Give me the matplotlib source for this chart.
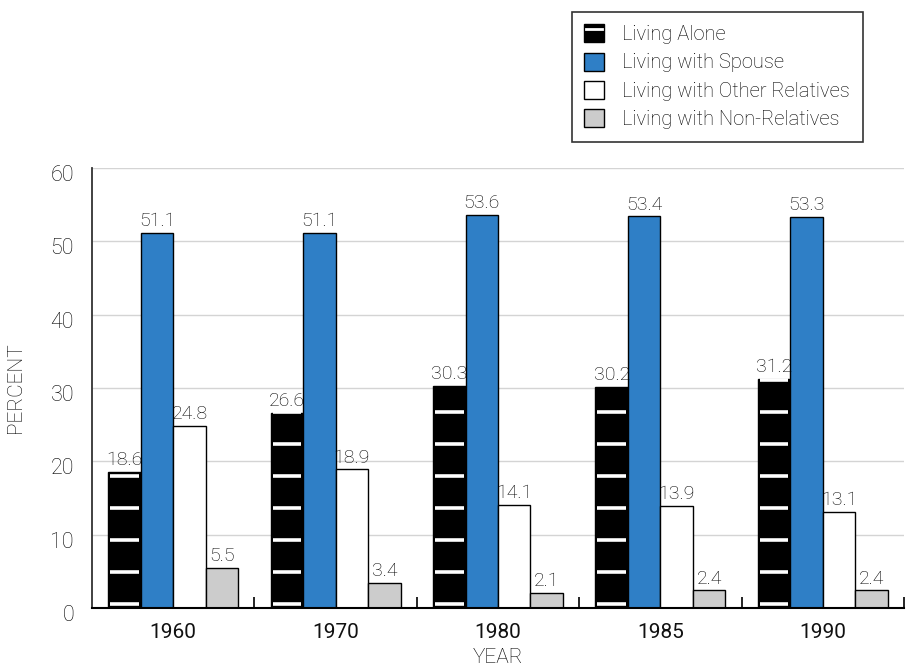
import matplotlib
matplotlib.use("Agg")
import matplotlib.pyplot as plt
import numpy as np
import matplotlib.transforms as mtransforms
from matplotlib.patches import Rectangle
from matplotlib.lines import Line2D
from matplotlib.legend_handler import HandlerBase

years = ["1960", "1970", "1980", "1985", "1990"]
series_names = ["Living Alone", "Living with Spouse",
                "Living with Other Relatives", "Living with Non-Relatives"]
living_alone = [18.6, 26.6, 30.3, 30.2, 31.2]
with_spouse = [51.1, 51.1, 53.6, 53.4, 53.3]
other_relatives = [24.8, 18.9, 14.1, 13.9, 13.1]
non_relatives = [5.5, 3.4, 2.1, 2.4, 2.4]
y_ticks = [0, 10, 20, 30, 40, 50, 60]

colors = ["#000000", "#2f7fc6", "#ffffff", "#cccccc"]
plt.rcParams['font.family'] = ["Roboto", "DejaVu Sans"]
plt.rcParams['font.weight'] = "light"
plt.rcParams['axes.labelweight'] = "light"
TXT = "#000000"

fig = plt.figure(figsize=(9.1, 6.68), dpi=100)
ax = fig.add_axes([0.1011, 0.0898, 0.8923, 0.6587])

x = np.arange(len(years))
w = 0.2
all_series = [living_alone, with_spouse, other_relatives, non_relatives]
bars = []
for k, (vals, c) in enumerate(zip(all_series, colors)):
    b = ax.bar(x + (k - 1.5) * w, vals, width=w, color=c, edgecolor="black",
               linewidth=1.0, zorder=2, label=series_names[k])
    bars.append(b)
    for xi, v in zip(x + (k - 1.5) * w, vals):
        ax.annotate(f"{v:.1f}", (xi, v), xytext=(0, 2), textcoords="offset points",
                    ha="center", va="bottom", fontsize=14, color=TXT, zorder=4)

# white stripes on "Living Alone" bars
for rect in bars[0]:
    h = rect.get_height()
    x0 = rect.get_x()
    x1 = x0 + rect.get_width()
    pad = (x1 - x0) * 0.06
    levels = np.arange(0.5, h + 0.2, 4.38)
    ax.hlines(levels, x0 + pad, x1 - pad, colors="white", linewidth=2.6, zorder=3)

ax.set_xlim(-0.5, 4.5)
ax.set_ylim(0, 60)
ax.set_yticks(y_ticks)
ax.set_yticklabels([str(t) for t in y_ticks], fontsize=15.5, color=TXT)
ax.set_xticks(x)
ax.set_xticklabels(years, fontsize=15, color="#111111", fontweight="normal")
ax.set_xticks(np.arange(0.5, 4.6, 1.0), minor=True)
ax.tick_params(axis="x", which="major", length=0, pad=11)
ax.tick_params(axis="x", which="minor", direction="in", length=8, width=1.2, color="black")
ax.tick_params(axis="y", length=0, pad=13)

off = mtransforms.ScaledTranslation(0, -5 / 100, fig.dpi_scale_trans)
for lbl in ax.get_yticklabels():
    lbl.set_transform(lbl.get_transform() + off)

ax.grid(axis="y", color="#d4d4d4", linewidth=1.0, zorder=0)
ax.set_axisbelow(True)
for s in ["top", "right"]:
    ax.spines[s].set_visible(False)
ax.spines["left"].set_color("#333333")
ax.spines["left"].set_linewidth(1.3)
ax.spines["bottom"].set_color("black")
ax.spines["bottom"].set_linewidth(1.5)

ax.set_ylabel("PERCENT", fontsize=15, color=TXT, labelpad=18, fontweight="light")
ax.set_xlabel("YEAR", fontsize=15, color=TXT, labelpad=4, fontweight="light")


class StripedHandler(HandlerBase):
    def create_artists(self, legend, orig_handle, xdescent, ydescent, width, height, fontsize, trans):
        r = Rectangle((-xdescent, -ydescent), width, height, facecolor="black",
                      edgecolor="black", linewidth=1.0, transform=trans)
        yy = -ydescent + height * 0.72
        ln = Line2D([-xdescent + width * 0.1, -xdescent + width * 0.9], [yy, yy],
                    color="white", linewidth=2.0, transform=trans)
        return [r, ln]


leg = fig.legend(bars, series_names, loc="upper left",
                 bbox_to_anchor=(571.7 / 910, 1 - 11.7 / 668),
                 handler_map={bars[0]: StripedHandler()},
                 frameon=True, fancybox=False, edgecolor="black",
                 handlelength=1.0, handleheight=1.0, borderaxespad=0,
                 handletextpad=0.9, labelspacing=0.42, borderpad=0.62,
                 prop={"size": 14.5, "weight": "light"})
leg.get_frame().set_linewidth(1.2)
for t in leg.get_texts():
    t.set_color("#000000")

fig.savefig("out.png", dpi=100)
